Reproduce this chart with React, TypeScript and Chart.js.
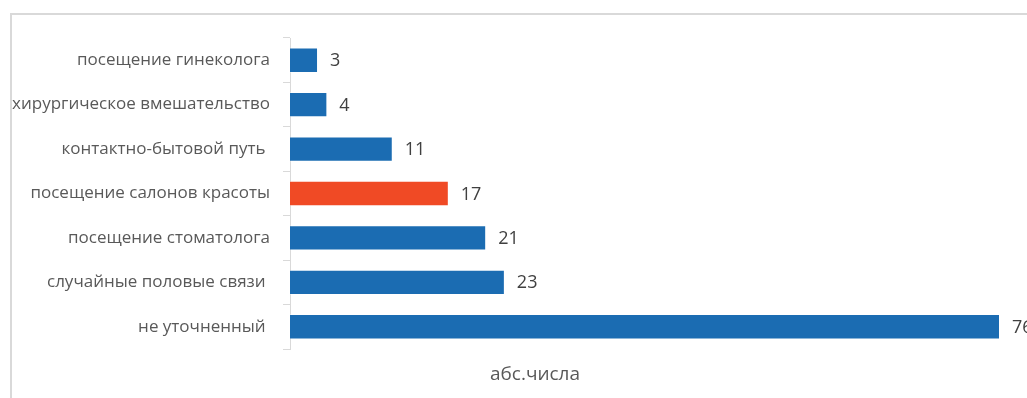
import React, { useEffect, useRef } from "react";
import { Chart, registerables } from "chart.js";

Chart.register(...registerables);

const categories = [
  "посещение гинеколога",
  "хирургическое вмешательство",
  "контактно-бытовой путь ",
  "посещение салонов красоты",
  "посещение стоматолога",
  "случайные половые связи ",
  "не уточненный ",
];
const values = [3, 4, 11, 17, 21, 23, 76];
const barColors = ["#1b6cb2", "#1b6cb2", "#1b6cb2", "#f04a25", "#1b6cb2", "#1b6cb2", "#1b6cb2"];
const axisTitle = "абс.числа";

const FONT = "'Open Sans', 'Noto Sans', sans-serif";

export default function App() {
  const ref = useRef<HTMLCanvasElement | null>(null);

  useEffect(() => {
    document.body.style.margin = "0";
    const canvas = ref.current;
    if (!canvas) return;

    const labelPlugin = {
      id: "valueLabels",
      afterDatasetsDraw(chart: any) {
        const ctx = chart.ctx;
        const meta = chart.getDatasetMeta(0);
        ctx.save();
        ctx.font = `18px ${FONT}`;
        ctx.fillStyle = "#404040";
        ctx.textAlign = "left";
        ctx.textBaseline = "middle";
        meta.data.forEach((bar: any, i: number) => {
          ctx.fillText(String(values[i]), bar.x + 12, bar.y + 1);
        });
        ctx.restore();
      },
      afterDraw(chart: any) {
        const ctx = chart.ctx;
        const area = chart.chartArea;
        ctx.save();
        ctx.font = `19px ${FONT}`;
        ctx.fillStyle = "#595959";
        ctx.textAlign = "center";
        ctx.textBaseline = "middle";
        ctx.fillText(axisTitle, area.left + 245, area.bottom + 26);
        ctx.restore();
      },
    };

    const chart = new Chart(canvas, {
      type: "bar",
      data: {
        labels: categories,
        datasets: [
          {
            data: values,
            backgroundColor: barColors,
            borderColor: "rgba(255,255,255,0.35)",
            borderWidth: 1,
            categoryPercentage: 0.57,
            barPercentage: 1,
          },
        ],
      },
      options: {
        indexAxis: "y",
        animation: false,
        responsive: false,
        maintainAspectRatio: false,
        layout: { padding: { left: 0, right: 27, top: 38, bottom: 49 } },
        plugins: { legend: { display: false }, tooltip: { enabled: false } },
        scales: {
          x: { display: false, min: 0, max: 76 },
          y: {
            afterFit(scale: any) {
              scale.width = 290;
            },
            grid: {
              offset: true,
              drawOnChartArea: false,
              drawTicks: true,
              tickLength: 7,
              color: "#d9d9d9",
            },
            border: { display: true, color: "#d9d9d9" },
            ticks: {
              padding: 13,
              color: "#595959",
              font: { family: FONT, size: 17 },
            },
          },
        },
      },
      plugins: [labelPlugin],
    });
    return () => chart.destroy();
  }, []);

  return (
    <div style={{ position: "relative", width: 1027, height: 398, overflow: "hidden", background: "#fff" }}>
      <div
        style={{
          position: "absolute",
          left: 10,
          top: 13,
          width: 1100,
          height: 500,
          border: "2px solid #d9d9d9",
          boxSizing: "border-box",
        }}
      />
      <canvas ref={ref} width={1027} height={398} style={{ position: "absolute", left: 0, top: 0 }} />
    </div>
  );
}
